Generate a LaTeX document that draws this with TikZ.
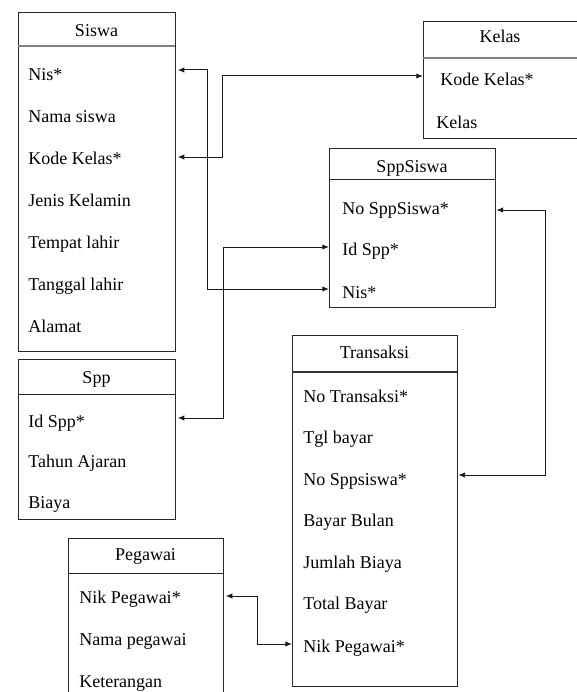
\documentclass[tikz,border=0pt]{standalone}
\usepackage{fontspec}
\setmainfont{Liberation Serif}
\newfontfamily\erdfont{Liberation Serif}
\usetikzlibrary{arrows.meta}
\begin{document}
\begin{tikzpicture}[x=0.75pt,y=-0.75pt,
  ent/.style={draw=black!85,line width=0.75pt,inner sep=0pt,outer sep=0pt,anchor=north west},
  sepline/.style={draw=black!85,line width=0.75pt},
  sepgray/.style={draw=black!50,line width=1.8pt},
  sepbold/.style={draw=black!80,line width=1.2pt},
  title/.style={anchor=base,inner sep=0pt,font=\erdfont\fontsize{13.5}{16}\selectfont},
  field/.style={anchor=base west,inner sep=0pt,font=\erdfont\fontsize{13.5}{16}\selectfont},
  link/.style={draw=black!90,line width=0.75pt,{Latex[length=5pt,width=4pt]}-{Latex[length=5pt,width=4pt]}}
]
\useasboundingbox (0,0) rectangle (576,692);

% ---------- Siswa ----------
\node[ent,minimum width=157*0.75pt,minimum height=338*0.75pt] (siswa) at (18,13) {};
\draw[sepgray] (siswa.west |- 0,46) -- (siswa.east |- 0,46);
\node[title] (siswaT) at (96.5,37) {Siswa};
\node[field] (siswa1) at (28,80)  {Nis*};
\node[field] (siswa2) at (28,122) {Nama siswa};
\node[field] (siswa3) at (28,164) {Kode Kelas*};
\node[field] (siswa4) at (28,206) {Jenis Kelamin};
\node[field] (siswa5) at (28,248) {Tempat lahir};
\node[field] (siswa6) at (28,290) {Tanggal lahir};
\node[field] (siswa7) at (28,332) {Alamat};

% ---------- Kelas ----------
\node[ent,minimum width=154*0.75pt,minimum height=116*0.75pt] (kelas) at (423,22) {};
\draw[sepgray] (kelas.west |- 0,58) -- (kelas.east |- 0,58);
\node[title] (kelasT) at (500,43) {Kelas};
\node[field] (kelas1) at (440,85)  {Kode Kelas*};
\node[field] (kelas2) at (436,128) {Kelas};

% ---------- SppSiswa ----------
\node[ent,minimum width=166*0.75pt,minimum height=159*0.75pt] (sppsiswa) at (329,148) {};
\draw[sepline] (sppsiswa.west |- 0,179) -- (sppsiswa.east |- 0,179);
\node[title] (sppsiswaT) at (412,172) {SppSiswa};
\node[field] (sppsiswa1) at (342,214) {No SppSiswa*};
\node[field] (sppsiswa2) at (342,255) {Id Spp*};
\node[field] (sppsiswa3) at (342,298) {Nis*};

% ---------- Spp ----------
\node[ent,minimum width=157*0.75pt,minimum height=160*0.75pt] (spp) at (18,359) {};
\draw[sepline] (spp.west |- 0,394) -- (spp.east |- 0,394);
\node[title] (sppT) at (96.5,383) {Spp};
\node[field] (spp1) at (28,427) {Id Spp*};
\node[field] (spp2) at (28,467) {Tahun Ajaran};
\node[field] (spp3) at (28,508) {Biaya};

% ---------- Transaksi ----------
\node[ent,minimum width=165*0.75pt,minimum height=351*0.75pt] (transaksi) at (292,335) {};
\draw[sepbold] (transaksi.west |- 0,372) -- (transaksi.east |- 0,372);
\node[title] (transaksiT) at (374.5,358) {Transaksi};
\node[field] (transaksi1) at (303,402) {No Transaksi*};
\node[field] (transaksi2) at (303,443) {Tgl bayar};
\node[field] (transaksi3) at (303,485) {No Sppsiswa*};
\node[field] (transaksi4) at (303,526) {Bayar Bulan};
\node[field] (transaksi5) at (303,568) {Jumlah Biaya};
\node[field] (transaksi6) at (303,609) {Total Bayar};
\node[field] (transaksi7) at (303,652) {Nik Pegawai*};

% ---------- Pegawai ----------
\node[ent,minimum width=155*0.75pt,minimum height=170*0.75pt] (pegawai) at (68,538) {};
\draw[sepline] (pegawai.west |- 0,573) -- (pegawai.east |- 0,573);
\node[title] (pegawaiT) at (145.5,560) {Pegawai};
\node[field] (pegawai1) at (79,603) {Nik Pegawai*};
\node[field] (pegawai2) at (79,645) {Nama pegawai};
\node[field] (pegawai3) at (79,687) {Keterangan};

% ---------- relations ----------
\coordinate (a1) at (207,70);  \coordinate (a2) at (207,289);
\draw[link] ([xshift=2pt]siswa.east |- a1) -- (a1) -- (a2) -- (sppsiswa.west |- a2);

\coordinate (b1) at (222,157); \coordinate (b2) at (222,76);
\draw[link] ([xshift=2pt]siswa.east |- b1) -- (b1) -- (b2) -- (kelas.west |- b2);

\coordinate (c1) at (223,418); \coordinate (c2) at (223,247);
\draw[link] ([xshift=2pt]spp.east |- c1) -- (c1) -- (c2) -- (sppsiswa.west |- c2);

\coordinate (d1) at (545,210); \coordinate (d2) at (545,475);
\draw[link] ([xshift=1pt]sppsiswa.east |- d1) -- (d1) -- (d2) -- ([xshift=1pt]transaksi.east |- d2);

\coordinate (e1) at (257,596); \coordinate (e2) at (257,644);
\draw[link] ([xshift=2pt]pegawai.east |- e1) -- (e1) -- (e2) -- (transaksi.west |- e2);
\end{tikzpicture}
\end{document}
